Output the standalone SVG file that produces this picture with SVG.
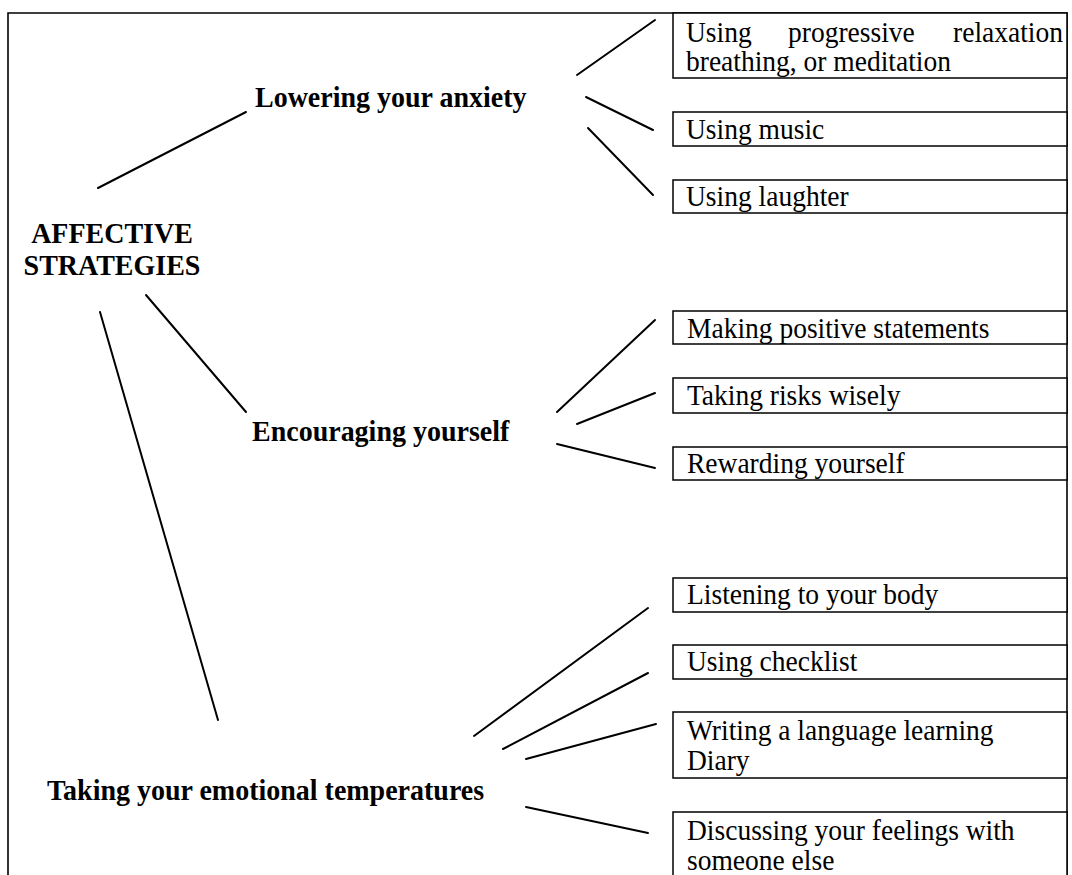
<svg xmlns="http://www.w3.org/2000/svg" width="1072" height="875" viewBox="0 0 1072 875">
  <style>
    .frame { fill: none; stroke: #000; stroke-width: 1.6; }
    .box { fill: #fff; stroke: #000; stroke-width: 1.5; }
    .head { font-family: "Liberation Serif", "Times New Roman", serif; font-weight: bold; font-size: 28px; fill: #000; }
    .item { font-family: "Liberation Serif", "Times New Roman", serif; font-size: 27.5px; fill: #000; }
    .link { stroke: #000; stroke-width: 2; fill: none; stroke-linecap: round; }
  </style>

  <rect width="1072" height="875" fill="#fff"/>

  <!-- outer page frame (open at the bottom) -->
  <path class="frame" d="M8,875 V13 H1067 V875"/>

  <!-- connectors -->
  <g id="connectors">
    <line class="link" x1="98" y1="188" x2="246" y2="112"/>
    <line class="link" x1="146" y1="295" x2="246" y2="412"/>
    <line class="link" x1="100" y1="312" x2="218" y2="720"/>

    <line class="link" x1="577" y1="75" x2="655" y2="20"/>
    <line class="link" x1="586" y1="97" x2="653" y2="130"/>
    <line class="link" x1="588" y1="128" x2="653" y2="195"/>

    <line class="link" x1="557" y1="412" x2="655" y2="320"/>
    <line class="link" x1="577" y1="424" x2="655" y2="393"/>
    <line class="link" x1="557" y1="444" x2="655" y2="468"/>

    <line class="link" x1="474" y1="736" x2="648" y2="608"/>
    <line class="link" x1="503" y1="749" x2="648" y2="673"/>
    <line class="link" x1="526" y1="759" x2="656" y2="724"/>
    <line class="link" x1="526" y1="807" x2="648" y2="833"/>
  </g>

  <!-- root (type is set slightly tall: scaled about the baseline) -->
  <g id="root">
    <text class="head" transform="translate(112,243) scale(1,1.08)" text-anchor="middle">AFFECTIVE</text>
    <text class="head" transform="translate(112,275) scale(1,1.08)" text-anchor="middle">STRATEGIES</text>
  </g>

  <!-- branches -->
  <g id="lowering">
    <text class="head" transform="translate(255,107) scale(1,1.08)">Lowering your anxiety</text>
  </g>
  <g id="encouraging">
    <text class="head" transform="translate(252,441) scale(1,1.08)">Encouraging yourself</text>
  </g>
  <g id="temperature">
    <text class="head" transform="translate(47,800) scale(1,1.08)">Taking your emotional temperatures</text>
  </g>

  <!-- leaves: lowering your anxiety -->
  <g id="relaxation">
    <rect class="box" x="673" y="13" width="394" height="65"/>
    <text class="item" transform="translate(686,42) scale(1,1.06)"><tspan x="0">Using</tspan><tspan x="102">progressive</tspan><tspan x="377" text-anchor="end">relaxation</tspan></text>
    <text class="item" transform="translate(686,71) scale(1,1.06)">breathing, or meditation</text>
  </g>
  <g id="music">
    <rect class="box" x="673" y="112" width="394" height="34"/>
    <text class="item" transform="translate(686,139) scale(1,1.06)">Using music</text>
  </g>
  <g id="laughter">
    <rect class="box" x="673" y="180" width="394" height="33"/>
    <text class="item" transform="translate(686,206) scale(1,1.06)">Using laughter</text>
  </g>

  <!-- leaves: encouraging yourself -->
  <g id="statements">
    <rect class="box" x="673" y="311" width="394" height="33"/>
    <text class="item" transform="translate(687,338) scale(1,1.06)">Making positive statements</text>
  </g>
  <g id="risks">
    <rect class="box" x="673" y="378" width="394" height="35"/>
    <text class="item" transform="translate(687,405) scale(1,1.06)">Taking risks wisely</text>
  </g>
  <g id="rewarding">
    <rect class="box" x="673" y="447" width="394" height="33"/>
    <text class="item" transform="translate(687,473) scale(1,1.06)">Rewarding yourself</text>
  </g>

  <!-- leaves: taking your emotional temperatures -->
  <g id="body">
    <rect class="box" x="673" y="578" width="394" height="34"/>
    <text class="item" transform="translate(687,604) scale(1,1.06)">Listening to your body</text>
  </g>
  <g id="checklist">
    <rect class="box" x="673" y="645" width="394" height="34"/>
    <text class="item" transform="translate(687,671) scale(1,1.06)">Using checklist</text>
  </g>
  <g id="diary">
    <rect class="box" x="673" y="712" width="394" height="66"/>
    <text class="item" transform="translate(687,740) scale(1,1.06)">Writing a language learning</text>
    <text class="item" transform="translate(687,770) scale(1,1.06)">Diary</text>
  </g>
  <g id="feelings">
    <rect class="box" x="673" y="812" width="394" height="80"/>
    <text class="item" transform="translate(687,840) scale(1,1.06)">Discussing your feelings with</text>
    <text class="item" transform="translate(687,870) scale(1,1.06)">someone else</text>
  </g>
</svg>
